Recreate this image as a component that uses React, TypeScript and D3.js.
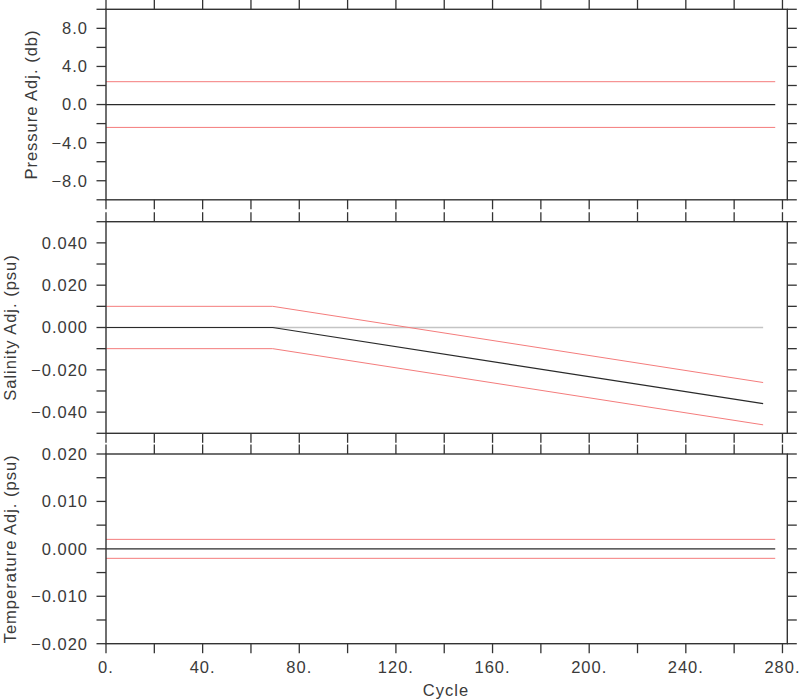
import React from "react";
import * as d3 from "d3";

// ---- Data ----
const pressureCycles = [0, 277];
const pressureAdj = [0, 0];
const pressureErrUpper = [2.4, 2.4];
const pressureErrLower = [-2.4, -2.4];

const salinityCycles = [0, 69, 272];
const salinityAdj = [0, 0, -0.036];
const salinityErrUpper = [0.01, 0.01, -0.026];
const salinityErrLower = [-0.01, -0.01, -0.046];
const salinityZeroCycles = [0, 272];
const salinityZero = [0, 0];

const temperatureCycles = [0, 277];
const temperatureAdj = [0, 0];
const temperatureErrUpper = [0.002, 0.002];
const temperatureErrLower = [-0.002, -0.002];

const xTickLabels = [0, 40, 80, 120, 160, 200, 240, 280];
const xMinorTicks = d3.range(0, 281, 20);

const pressureLabels = [8, 4, 0, -4, -8];
const salinityLabels = [0.04, 0.02, 0, -0.02, -0.04];
const temperatureLabels = [0.02, 0.01, 0, -0.01, -0.02];

const FONT = "'Liberation Sans', Arial, sans-serif";
const AXIS = "#333";
const TEXT = "#3a3a3a";
const FS = 16.5;
const LS = 1;

type Series = { xs: number[]; ys: number[]; color: string; width: number };

function fmtMinus(s: string) {
  return s.replace("-", "\u2212");
}

function Panel(props: {
  x: d3.ScaleLinear<number, number>;
  domain: [number, number];
  top: number;
  bottom: number;
  minorStep: number;
  labels: number[];
  fmt: (v: number) => string;
  title: string;
  titleX: number;
  series: Series[];
  showXLabels?: boolean;
}) {
  const { x, domain, top, bottom, minorStep, labels, fmt, title, titleX, series } = props;
  const y = d3.scaleLinear().domain(domain).range([bottom, top]);
  const [x0, x1] = x.range();
  const n = Math.round((domain[1] - domain[0]) / minorStep);
  const yTicks = d3.range(0, n + 1).map((i) => domain[0] + i * minorStep);
  const T = 9.5;
  const line = d3
    .line<[number, number]>()
    .x((d) => x(d[0]))
    .y((d) => y(d[1]));
  return (
    <g>
      {series.map((s, i) => (
        <path
          key={i}
          d={line(s.xs.map((v, j) => [v, s.ys[j]] as [number, number])) || ""}
          fill="none"
          stroke={s.color}
          strokeWidth={s.width}
        />
      ))}
      <rect x={x0} y={top} width={x1 - x0} height={bottom - top} fill="none" stroke={AXIS} strokeWidth={1.4} />
      {yTicks.map((v, i) => (
        <g key={i}>
          <line x1={x0 - T} x2={x0} y1={y(v)} y2={y(v)} stroke={AXIS} strokeWidth={1.3} />
          <line x1={x1} x2={x1 + T} y1={y(v)} y2={y(v)} stroke={AXIS} strokeWidth={1.3} />
        </g>
      ))}
      {xMinorTicks.map((v, i) => (
        <g key={i}>
          <line x1={x(v)} x2={x(v)} y1={top - T} y2={top} stroke={AXIS} strokeWidth={1.3} />
          <line x1={x(v)} x2={x(v)} y1={bottom} y2={bottom + T} stroke={AXIS} strokeWidth={1.3} />
        </g>
      ))}
      {labels.map((v, i) => (
        <text
          key={i}
          x={x0 - 18}
          y={y(v)}
          dy="0.36em"
          textAnchor="end"
          fontFamily={FONT}
          fontSize={FS}
          fill={TEXT}
          letterSpacing={LS}
        >
          {fmtMinus(fmt(v))}
        </text>
      ))}
      <text
        transform={`translate(${titleX},${(top + bottom) / 2}) rotate(-90)`}
        textAnchor="middle"
        fontFamily={FONT}
        fontSize={FS}
        fill={TEXT}
        letterSpacing={LS}
      >
        {title}
      </text>
      {props.showXLabels &&
        xTickLabels.map((v, i) => (
          <text
            key={i}
            x={x(v)}
            y={bottom + 29}
            textAnchor="middle"
            fontFamily={FONT}
            fontSize={FS}
            fill={TEXT}
            letterSpacing={LS}
          >
            {`${v}.`}
          </text>
        ))}
    </g>
  );
}

export default function App() {
  const x = d3.scaleLinear().domain([0, 282]).range([106, 787.3]);
  const red = "#f47c7c";
  const dark = "#2a2a2a";
  return (
    <svg
      width={800}
      height={700}
      style={{ position: "absolute", left: 0, top: 0, background: "#fff" }}
    >
      <rect width={800} height={700} fill="#fff" />
      <Panel
        x={x}
        domain={[-10, 10]}
        top={9.3}
        bottom={199.8}
        minorStep={2}
        labels={pressureLabels}
        fmt={(v) => d3.format(".1f")(v)}
        title="Pressure Adj. (db)"
        titleX={37}
        series={[
          { xs: pressureCycles, ys: pressureErrUpper, color: red, width: 1 },
          { xs: pressureCycles, ys: pressureErrLower, color: red, width: 1 },
          { xs: pressureCycles, ys: pressureAdj, color: dark, width: 1.2 },
        ]}
      />
      <Panel
        x={x}
        domain={[-0.05, 0.05]}
        top={221.7}
        bottom={433.3}
        minorStep={0.01}
        labels={salinityLabels}
        fmt={(v) => d3.format(".3f")(v)}
        title="Salinity Adj. (psu)"
        titleX={16}
        series={[
          { xs: salinityZeroCycles, ys: salinityZero, color: "#c4c4c4", width: 1.5 },
          { xs: salinityCycles, ys: salinityErrUpper, color: red, width: 1 },
          { xs: salinityCycles, ys: salinityErrLower, color: red, width: 1 },
          { xs: salinityCycles, ys: salinityAdj, color: dark, width: 1.2 },
        ]}
      />
      <Panel
        x={x}
        domain={[-0.02, 0.02]}
        top={454}
        bottom={643.7}
        minorStep={0.005}
        labels={temperatureLabels}
        fmt={(v) => d3.format(".3f")(v)}
        title="Temperature Adj. (psu)"
        titleX={16}
        showXLabels
        series={[
          { xs: temperatureCycles, ys: temperatureErrUpper, color: red, width: 1 },
          { xs: temperatureCycles, ys: temperatureErrLower, color: red, width: 1 },
          { xs: temperatureCycles, ys: temperatureAdj, color: dark, width: 1.2 },
        ]}
      />
      <text
        x={446}
        y={695.5}
        textAnchor="middle"
        fontFamily={FONT}
        fontSize={FS}
        fill={TEXT}
        letterSpacing={LS}
      >
        Cycle
      </text>
    </svg>
  );
}
